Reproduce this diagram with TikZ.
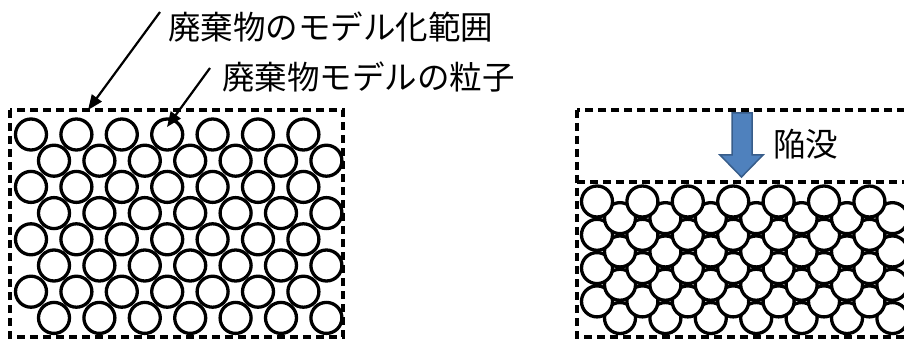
\documentclass[tikz,border=0pt]{standalone}
\usepackage{fontspec}
\newfontfamily\jpfont{Noto Sans CJK JP}
\usetikzlibrary{arrows.meta}
\definecolor{arrowblue}{HTML}{4F81BD}
\definecolor{arrowedge}{HTML}{385D8A}
\begin{document}
\begin{tikzpicture}[x=1pt,y=-1pt,
  particle/.style={draw,fill=white,line width=3.3pt},
  rangebox/.style={line width=3.1pt,dash pattern=on 8pt off 5pt},
  jplabel/.style={inner sep=0pt,anchor=west,font=\jpfont\fontsize{32.5}{32.5}\selectfont},
  pointer/.style={line width=2.2pt,-{Triangle[length=15pt,width=12pt]}}]

\useasboundingbox (0,0) rectangle (904,339);

% Particle radius and spacing of the lattice
\def\rad{15.5}
\def\dx{45.4}
\def\dy{26.2}
\def\dyc{16.65}

% Model range before settlement
\draw[rangebox] (10,110) rectangle (343,337);
\foreach \r in {1,...,8}{
  \foreach \i in {1,...,7}{
    \pgfmathsetmacro{\xo}{isodd(\r) ? 31 : 54}
    \draw[particle] ({\xo+\dx*(\i-1)},{134.5+\dy*(\r-1)}) circle (\rad);
  }
}

% Labels and pointers
\node[jplabel] (range) at (168,27) {廃棄物のモデル化範囲};
\node[jplabel] (grain) at (222,77) {廃棄物モデルの粒子};
\coordinate (R0) at (160,12);
\coordinate (R1) at (88,110);
\coordinate (G0) at (210,68);
\coordinate (G1) at (167,127);
\draw[pointer] (R0) -- (R1);
\draw[pointer] (G0) -- (G1);

% Model range after settlement (cut at the right side)
\begin{scope}
\clip (560,100) rectangle (904,339);
\draw[rangebox] (577,110) rectangle (930,337);
\draw[rangebox] (577,182) -- (930,182);
% lower rows first, upper rows lie over them
\foreach \r in {8,7,...,1}{
  \foreach \i in {1,...,7}{
    \pgfmathsetmacro{\xo}{isodd(\r) ? 597 : 620}
    \draw[particle] ({\xo+\dx*(\i-1)},{201.5+\dyc*(\r-1)}) circle (\rad);
  }
}
\end{scope}

% Settlement arrow
\draw[fill=arrowblue,draw=arrowedge,line width=1.5pt,line join=miter]
  (732,113) -- (752,113) -- (752,155) -- (763,155) -- (741.5,177)
  -- (720,155) -- (732,155) -- cycle;
\node[jplabel] (sink) at (773,144) {陥没};

\end{tikzpicture}
\end{document}
